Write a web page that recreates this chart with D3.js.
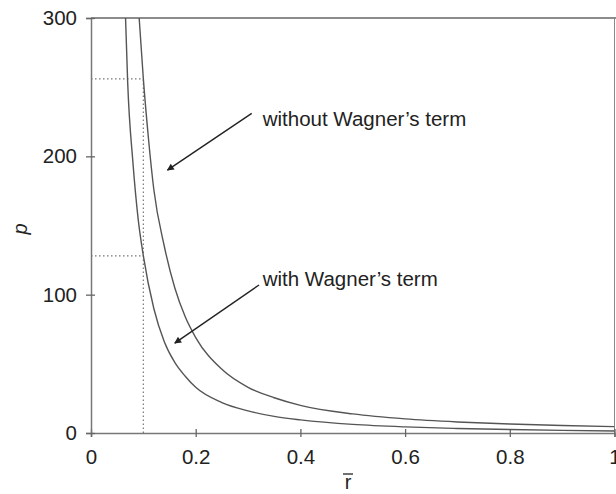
<!DOCTYPE html>
<html>
<head>
<meta charset="utf-8">
<script src="https://cdn.jsdelivr.net/npm/d3@7"></script>
<style>
body{margin:0;background:#fff;}
svg{display:block;}
text{font-family:"Liberation Sans",Arial,sans-serif;fill:#222;}
</style>
</head>
<body>
<svg id="chart" width="616" height="494"></svg>
<script>
// Data
const xTicks = [0, 0.2, 0.4, 0.6, 0.8, 1];
const yTicks = [0, 100, 200, 300];
const rWithout = [0.092, 0.1, 0.11, 0.12, 0.14, 0.16, 0.18, 0.2, 0.25, 0.3, 0.35, 0.4, 0.5, 0.6, 0.7, 0.8, 0.9, 1.0];
const pWithout = [300, 256, 212, 176, 135, 105, 84, 69, 46, 33, 25.5, 20, 13.8, 10.2, 8, 6.5, 5.4, 4.6];
const rWith = [0.066, 0.07, 0.08, 0.09, 0.1, 0.12, 0.14, 0.16, 0.18, 0.2, 0.25, 0.3, 0.35, 0.4, 0.5, 0.6, 0.7, 0.8, 0.9, 1.0];
const pWith = [300, 254, 196, 155, 128, 90, 66, 51, 41, 33, 22, 16, 12, 9.5, 6.2, 4.4, 3.3, 2.5, 1.9, 1.4];
const guideR = 0.1;
const guideP = [256, 128];
const labels = [
  {text: "without Wagner\u2019s term", tx: 0.328, ty: 222, ax0: 0.307, ay0: 231, ax1: 0.146, ay1: 190},
  {text: "with Wagner\u2019s term", tx: 0.328, ty: 106, ax0: 0.321, ay0: 107, ax1: 0.160, ay1: 65}
];

const svg = d3.select("#chart");
const W = 616, H = 494;
const x = d3.scaleLinear().domain([0, 1]).range([91, 614.5]);
const y = d3.scaleLinear().domain([0, 300]).range([433, 18]);

svg.append("defs").append("clipPath").attr("id", "clip")
  .append("rect").attr("x", x(0)).attr("y", y(300)).attr("width", x(1) - x(0)).attr("height", y(0) - y(300));

// frame
svg.append("line").attr("x1", x(0)).attr("x2", W).attr("y1", y(300)).attr("y2", y(300))
  .attr("stroke", "#666").attr("stroke-width", 1.3);
svg.append("line").attr("x1", x(1)).attr("x2", x(1)).attr("y1", y(300)).attr("y2", y(0))
  .attr("stroke", "#888").attr("stroke-width", 1);

// axes
const gx = svg.append("g").attr("transform", `translate(0,${y(0)})`)
  .call(d3.axisBottom(x).tickValues(xTicks).tickFormat(d => d3.format("")(d)).tickSize(4).tickPadding(12));
gx.select(".domain").attr("stroke", "#777").attr("stroke-width", 1.5);
gx.selectAll(".tick line").attr("y1", -4).attr("y2", 4).attr("stroke", "#666").attr("stroke-width", 1.3);
gx.selectAll(".tick text").attr("font-size", 20.5).attr("fill", "#222").attr("font-family", "Liberation Sans, Arial, sans-serif").attr("dy", "0.71em");

const gy = svg.append("g").attr("transform", `translate(${x(0)},0)`)
  .call(d3.axisLeft(y).tickValues(yTicks).tickSize(5).tickPadding(9));
gy.select(".domain").attr("stroke", "#777").attr("stroke-width", 1.5);
gy.selectAll(".tick line").attr("x1", -5).attr("x2", 4).attr("stroke", "#666").attr("stroke-width", 1.3);
gy.selectAll(".tick text").attr("font-size", 20.5).attr("fill", "#222").attr("font-family", "Liberation Sans, Arial, sans-serif");

// dotted guides
const gd = svg.append("g").attr("stroke", "#777").attr("stroke-width", 1.2).attr("stroke-dasharray", "1.5,2.5");
gd.append("line").attr("x1", x(guideR)).attr("x2", x(guideR)).attr("y1", y(0)).attr("y2", y(guideP[0]));
guideP.forEach(p => gd.append("line").attr("x1", x(0)).attr("x2", x(guideR)).attr("y1", y(p)).attr("y2", y(p)));

// curves
const line = d3.line().x(d => x(d[0])).y(d => y(d[1])).curve(d3.curveMonotoneX);
const gc = svg.append("g").attr("clip-path", "url(#clip)");
gc.append("path").datum(d3.zip(rWithout, pWithout)).attr("d", line)
  .attr("fill", "none").attr("stroke", "#555").attr("stroke-width", 1.4);
gc.append("path").datum(d3.zip(rWith, pWith)).attr("d", line)
  .attr("fill", "none").attr("stroke", "#555").attr("stroke-width", 1.4);

// annotations
svg.append("defs").append("marker").attr("id", "arr").attr("viewBox", "0 0 10 10")
  .attr("refX", 9).attr("refY", 5).attr("markerWidth", 9).attr("markerHeight", 7).attr("markerUnits", "userSpaceOnUse")
  .attr("orient", "auto").append("path").attr("d", "M0,0L10,5L0,10z").attr("fill", "#222");
labels.forEach(l => {
  svg.append("text").attr("x", x(l.tx)).attr("y", y(l.ty)).attr("font-size", 20.5).text(l.text);
  svg.append("line").attr("x1", x(l.ax0)).attr("y1", y(l.ay0)).attr("x2", x(l.ax1)).attr("y2", y(l.ay1))
    .attr("stroke", "#222").attr("stroke-width", 1.4).attr("marker-end", "url(#arr)");
});

// axis titles
svg.append("text").attr("transform", "translate(27,229) rotate(-90)").attr("text-anchor", "middle")
  .attr("font-size", 20).attr("font-style", "italic").text("p");
svg.append("text").attr("x", 348).attr("y", 489).attr("text-anchor", "middle")
  .attr("font-size", 20).text("r");
svg.append("line").attr("x1", 343).attr("x2", 353).attr("y1", 474).attr("y2", 474)
  .attr("stroke", "#222").attr("stroke-width", 1.3);
</script>
</body>
</html>
